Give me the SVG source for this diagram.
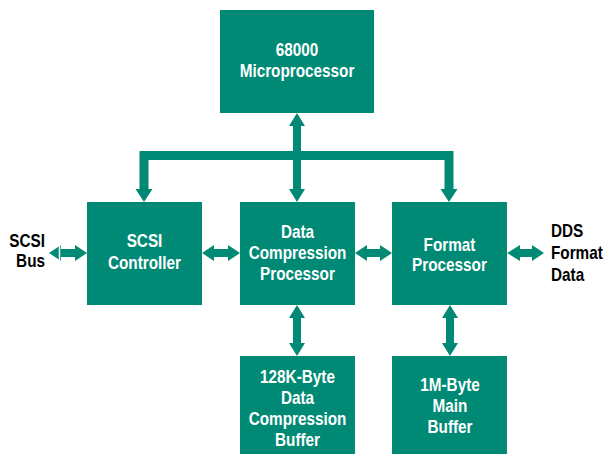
<svg xmlns="http://www.w3.org/2000/svg" width="604" height="455" viewBox="0 0 604 455">
<style>
.box{fill:#008a75}
.con{fill:#008a75}
.t{font-family:"Liberation Sans",Arial,sans-serif;font-weight:bold;font-size:18px;fill:#ffffff;text-anchor:middle}
.l{font-family:"Liberation Sans",Arial,sans-serif;font-weight:bold;font-size:18px;fill:#000000}
</style>
<rect width="604" height="455" fill="#ffffff"/>
<g id="connectors">
  <path class="con" d="M139.5,151 H453.5 V189 H457.5 L449,202 L440.5,189 H444.5 V160 H148.5 V189 H152.5 L144,202 L135.5,189 H139.5 Z"/>
  <path class="con" d="M297,113 L305,126 H301 V189 H305 L297,202 L289,189 H293 V126 H289 Z"/>
  <path class="con" d="M49,253 L61,245 V249 H75 V245 L87,253 L75,261 V257 H61 V261 Z"/>
  <line x1="59.5" y1="244" x2="59.5" y2="262" stroke="#ffffff" stroke-width="1.5"/>
  <path class="con" d="M202,253 L214,245 V249 H228 V245 L240,253 L228,261 V257 H214 V261 Z"/>
  <path class="con" d="M355,253 L367,245 V249 H380 V245 L392,253 L380,261 V257 H367 V261 Z"/>
  <path class="con" d="M507,253 L520,245 V249 H532 V245 L544,253 L532,261 V257 H520 V261 Z"/>
  <path class="con" d="M297,305 L305,318 H301 V343 H305 L297,356 L289,343 H293 V318 H289 Z"/>
  <path class="con" d="M450,305 L458,318 H454 V343 H458 L450,356 L442,343 H446 V318 H442 Z"/>
</g>
<g id="micro">
  <rect class="box" x="220" y="10" width="154" height="103"/>
  <g transform="translate(297,0) scale(0.85,1)">
    <text class="t" x="0" y="56">68000</text>
    <text class="t" x="0" y="77">Microprocessor</text>
  </g>
</g>
<g id="scsi">
  <rect class="box" x="87" y="202" width="115" height="103"/>
  <g transform="translate(144.5,0) scale(0.85,1)">
    <text class="t" x="0" y="247">SCSI</text>
    <text class="t" x="0" y="269">Controller</text>
  </g>
</g>
<g id="dcp">
  <rect class="box" x="240" y="202" width="115" height="103"/>
  <g transform="translate(297.5,0) scale(0.85,1)">
    <text class="t" x="0" y="238">Data</text>
    <text class="t" x="0" y="259">Compression</text>
    <text class="t" x="0" y="280">Processor</text>
  </g>
</g>
<g id="format">
  <rect class="box" x="392" y="202" width="115" height="103"/>
  <g transform="translate(449.5,0) scale(0.85,1)">
    <text class="t" x="0" y="251">Format</text>
    <text class="t" x="0" y="271">Processor</text>
  </g>
</g>
<g id="dcbuf">
  <rect class="box" x="240" y="356" width="115" height="98"/>
  <g transform="translate(297.5,0) scale(0.85,1)">
    <text class="t" x="0" y="383">128K-Byte</text>
    <text class="t" x="0" y="404">Data</text>
    <text class="t" x="0" y="425">Compression</text>
    <text class="t" x="0" y="446">Buffer</text>
  </g>
</g>
<g id="mainbuf">
  <rect class="box" x="392" y="356" width="115" height="98"/>
  <g transform="translate(450,0) scale(0.85,1)">
    <text class="t" x="0" y="391">1M-Byte</text>
    <text class="t" x="0" y="412">Main</text>
    <text class="t" x="0" y="433">Buffer</text>
  </g>
</g>
<g id="scsibus">
  <g transform="translate(45,0) scale(0.85,1)">
    <text class="l" x="0" y="247" text-anchor="end">SCSI</text>
    <text class="l" x="0" y="267" text-anchor="end">Bus</text>
  </g>
</g>
<g id="dds">
  <g transform="translate(551,0) scale(0.85,1)">
    <text class="l" x="0" y="237">DDS</text>
    <text class="l" x="0" y="259">Format</text>
    <text class="l" x="0" y="281">Data</text>
  </g>
</g>
</svg>
